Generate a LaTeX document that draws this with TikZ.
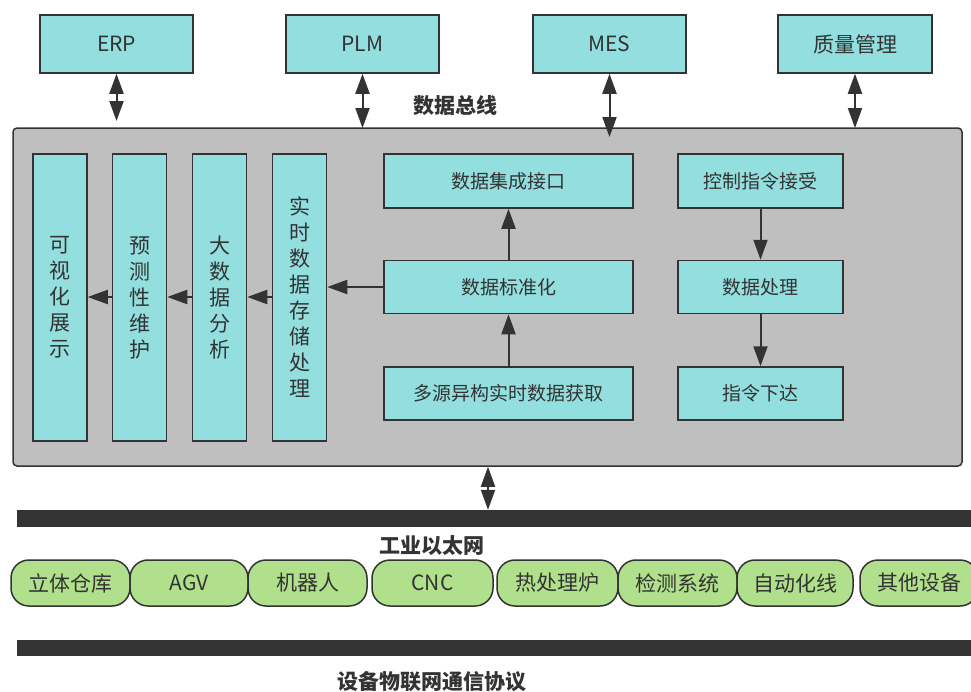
\documentclass[tikz,border=0pt]{standalone}
\usepackage{fontspec}
\setmainfont{Noto Sans CJK SC}
\usetikzlibrary{arrows.meta}
\definecolor{cyanfill}{RGB}{147,222,222}
\definecolor{grayfill}{RGB}{191,191,191}
\definecolor{greenfill}{RGB}{176,224,140}
\definecolor{ink}{RGB}{51,51,51}
\tikzset{
  cbox/.style={draw=ink, line width=1.5pt, fill=cyanfill, text=ink, font=\fontsize{19}{22}\selectfont, inner sep=0pt},
  topbox/.style={cbox, font=\fontsize{21}{24}\selectfont, minimum height=58pt},
  vbox/.style={draw=ink, line width=1.5pt, fill=cyanfill, text=ink, inner sep=0pt, align=center, minimum width=54pt, minimum height=287pt, font=\fontsize{21}{26}\selectfont},
  pill/.style={draw=ink, line width=1.5pt, fill=greenfill, text=ink, rounded corners=18pt, minimum height=46pt, inner sep=0pt, font=\fontsize{21}{24}\selectfont},
  busbox/.style={draw=ink, line width=1.5pt, fill=grayfill, rounded corners=4pt, inner sep=0pt},
  bar/.style={fill=ink, draw=none, inner sep=0pt},
  lbl/.style={text=ink, font=\fontsize{21}{24}\selectfont\bfseries, inner sep=0pt},
  arr/.style={draw=ink, line width=2pt, -{Triangle[length=20pt,width=14pt]}},
  darr/.style={draw=ink, line width=2pt, {Triangle[length=20pt,width=14pt]}-{Triangle[length=20pt,width=14pt]}},
}
\begin{document}
\begin{tikzpicture}[x=1pt,y=-1pt]
\useasboundingbox (0,0) rectangle (971,691);
% top systems
\node[topbox, minimum width=153pt] (erp) at (116.5,44) {ERP};
\node[topbox, minimum width=153pt] (plm) at (362.5,44) {PLM};
\node[topbox, minimum width=153pt] (mes) at (609.5,44) {MES};
\node[topbox, minimum width=154pt] (qm) at (855,44) {质量管理};
% bus box
\node[busbox, minimum width=949pt, minimum height=338pt] (bus) at (487.5,297) {};
\node[lbl] (buslbl) at (455,106) {数据总线};
% arrows to bus
\coordinate (erpend) at (116.5,121);
\coordinate (plmend) at (362.5,128);
\coordinate (mesend) at (609.5,137);
\coordinate (qmend) at (855,128);
\draw[darr] (erp.south) -- (erpend);
\draw[darr] (plm.south) -- (plmend);
\draw[darr] (mes.south) -- (mesend);
\draw[darr] (qm.south) -- (qmend);
% vertical boxes
\node[vbox] (kv) at (60,297.5) {可\\视\\化\\展\\示};
\node[vbox] (yc) at (139.5,297.5) {预\\测\\性\\维\\护};
\node[vbox] (dsj) at (219.5,297.5) {大\\数\\据\\分\\析};
\node[vbox] (ss) at (299.5,297.5) {实\\时\\数\\据\\存\\储\\处\\理};
% middle column
\node[cbox, minimum width=249pt, minimum height=54pt] (jc) at (508.5,181) {数据集成接口};
\node[cbox, minimum width=249pt, minimum height=53pt] (bz) at (508.5,287) {数据标准化};
\node[cbox, minimum width=249pt, minimum height=53pt] (dy) at (508.5,393.5) {多源异构实时数据获取};
% right column
\node[cbox, minimum width=165pt, minimum height=54pt] (kz) at (760.5,181) {控制指令接受};
\node[cbox, minimum width=165pt, minimum height=53pt] (cl) at (760.5,287) {数据处理};
\node[cbox, minimum width=165pt, minimum height=53pt] (xd) at (760.5,393.5) {指令下达};
% internal arrows
\draw[arr] (dy.north) -- (bz.south);
\draw[arr] (bz.north) -- (jc.south);
\draw[arr] (kz.south) -- (cl.north);
\draw[arr] (cl.south) -- (xd.north);
\draw[arr] (bz.west) -- (bz.west -| ss.east);
\draw[arr] (ss.west |- 0,297) -- (dsj.east |- 0,297);
\draw[arr] (dsj.west |- 0,297) -- (yc.east |- 0,297);
\draw[arr] (yc.west |- 0,297) -- (kv.east |- 0,297);
% bars
\node[bar, minimum width=954pt, minimum height=17pt] (eth) at (494,518.5) {};
\node[bar, minimum width=954pt, minimum height=16pt] (iot) at (494,648) {};
\node[lbl] (ethlbl) at (432,546) {工业以太网};
\node[lbl] (iotlbl) at (432,682) {设备物联网通信协议};
\draw[darr] (bus.south -| 488,0) -- (eth.north -| 488,0);
% devices
\node[pill, minimum width=119pt] (p1) at (70.5,583) {立体仓库};
\node[pill, minimum width=118pt] (p2) at (189,583) {AGV};
\node[pill, minimum width=119pt] (p3) at (307.5,583) {机器人};
\node[pill, minimum width=121pt] (p4) at (432.5,583) {CNC};
\node[pill, minimum width=121pt] (p5) at (557.5,583) {热处理炉};
\node[pill, minimum width=119pt] (p6) at (677.5,583) {检测系统};
\node[pill, minimum width=116pt] (p7) at (795,583) {自动化线};
\node[pill, minimum width=118pt] (p8) at (919,583) {其他设备};
\end{tikzpicture}
\end{document}
